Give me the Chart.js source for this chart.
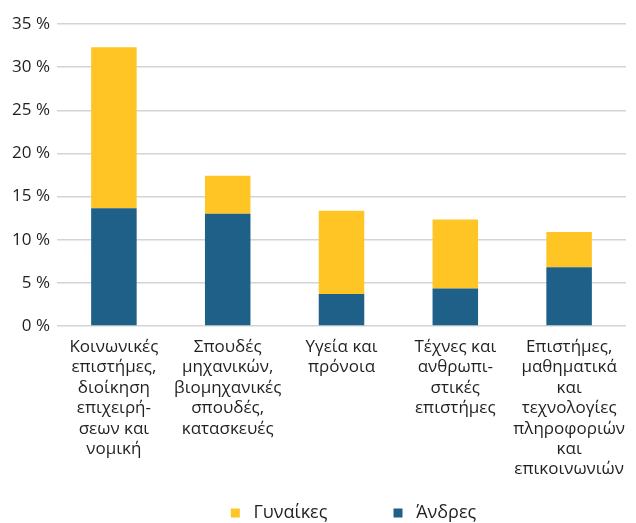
<!DOCTYPE html>
<html>
<head>
<meta charset="utf-8">
<script src="https://cdn.jsdelivr.net/npm/chart.js@4"></script>
<style>
  html, body { margin: 0; padding: 0; background: #fff; }
  #wrap { width: 636px; height: 523px; }
</style>
</head>
<body>
<div id="wrap"><canvas id="fieldChart"></canvas></div>
<script>
const categories = [
    ['Κοινωνικές', 'επιστήμες,', 'διοίκηση', 'επιχειρή-', 'σεων και', 'νομική'],
    ['Σπουδές', 'μηχανικών,', 'βιομηχανικές', 'σπουδές,', 'κατασκευές'],
    ['Υγεία και', 'πρόνοια'],
    ['Τέχνες και', 'ανθρωπι-', 'στικές', 'επιστήμες'],
    ['Επιστήμες,', 'μαθηματικά', 'και', 'τεχνολογίες', 'πληροφοριών', 'και', 'επικοινωνιών']
];
const seriesNames = ['Άνδρες', 'Γυναίκες'];
const men = [13.65, 13.0, 3.7, 4.35, 6.8];
const women = [18.65, 4.4, 9.65, 8.0, 4.1];
const yMax = 35;
const yStep = 5;

const textColor = '#231f20';
const fontFamily = '"Open Sans", "Noto Sans", sans-serif';

// nudge the legend a little to the right, like the original
const legendShift = {
    id: 'legendShift',
    afterLayout: function (chart) {
        chart.legend.left += 12;
        chart.legend.right += 12;
    }
};

const ctx = document.getElementById('fieldChart').getContext('2d');
const fieldChart = new Chart(ctx, {
    type: 'bar',
    data: {
        labels: categories,
        datasets: [{
            label: seriesNames[0],
            data: men,
            backgroundColor: '#1f6088',
            borderWidth: 0
        }, {
            label: seriesNames[1],
            data: women,
            backgroundColor: '#fec524',
            borderWidth: 0
        }]
    },
    plugins: [legendShift],
    options: {
        responsive: true,
        maintainAspectRatio: false,
        animation: false,
        layout: {
            padding: { top: 24, right: 0, bottom: 0, left: 0 }
        },
        datasets: {
            bar: { barPercentage: 0.8, categoryPercentage: 0.5 }
        },
        scales: {
            x: {
                stacked: true,
                afterFit: function (scale) { scale.height = 168; },
                grid: { display: false, drawTicks: false },
                border: { display: false },
                ticks: {
                    color: textColor,
                    font: { family: fontFamily, size: 17, lineHeight: 1.2 },
                    padding: 11,
                    maxRotation: 0,
                    autoSkip: false
                }
            },
            y: {
                stacked: true,
                min: 0,
                max: yMax,
                afterFit: function (scale) { scale.width = 57; },
                grid: { color: '#d2d5d5', lineWidth: 1.5, drawTicks: false },
                border: { display: false },
                ticks: {
                    stepSize: yStep,
                    color: textColor,
                    padding: 7,
                    font: { family: fontFamily, size: 17 },
                    callback: function (value) { return value + ' %'; }
                }
            }
        },
        plugins: {
            legend: {
                position: 'bottom',
                fullSize: false,
                reverse: true,
                maxHeight: 29,
                labels: {
                    color: textColor,
                    boxWidth: 9,
                    boxHeight: 9,
                    padding: 10,
                    font: { family: fontFamily, size: 18 },
                    generateLabels: function (chart) {
                        const items = Chart.defaults.plugins.legend.labels.generateLabels(chart);
                        items[0].text = ' ' + items[0].text;
                        items[1].text = ' ' + items[1].text + '            ';
                        return items;
                    }
                }
            },
            tooltip: {
                callbacks: {
                    label: function (context) {
                        return context.dataset.label + ': ' + context.raw + ' %';
                    }
                }
            }
        }
    }
});
</script>
</body>
</html>
